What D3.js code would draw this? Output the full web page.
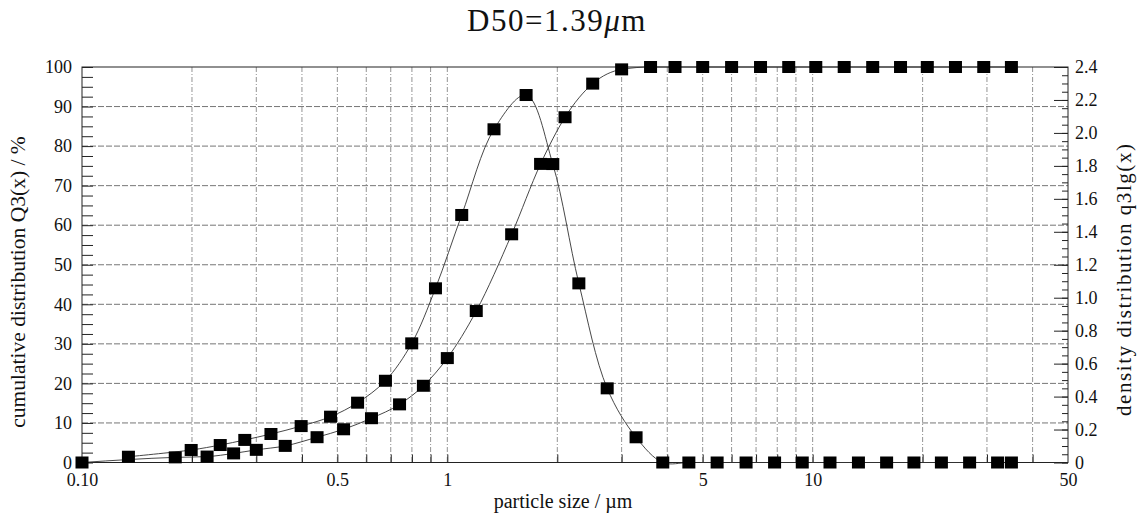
<!DOCTYPE html>
<html lang="en">
<head>
  <meta charset="UTF-8">
  <title>Particle size distribution</title>
  <script src="https://d3js.org/d3.v7.min.js"></script>
  <style>
    body { margin: 0; background: #fff; }
    text { font-family: "Liberation Serif", "Times New Roman", serif; fill: #111; }
  </style>
</head>
<body>
  <div id="chart"></div>

  <script>
    // class upper limits (µm) and cumulative distribution Q3 (%)
    const cumSizes = [0.1, 0.18, 0.22, 0.26, 0.30, 0.36, 0.44, 0.52, 0.62, 0.74, 0.86, 1.0, 1.2, 1.5, 1.8, 2.1,
      2.5, 3.0, 3.6, 4.2, 5.0, 6.0, 7.2, 8.6, 10.2, 12.2, 14.6, 17.4, 20.6, 24.6, 29.4, 35.0];
    const cumValues = [0, 1.3, 1.5, 2.3, 3.2, 4.2, 6.4, 8.4, 11.2, 14.7, 19.4, 26.4, 38.3, 57.7, 75.5, 87.3,
      95.8, 99.4, 100, 100, 100, 100, 100, 100, 100, 100, 100, 100, 100, 100, 100, 100];

    // class mid sizes (µm) and density distribution q3lg
    const densSizes = [0.134, 0.199, 0.239, 0.279, 0.329, 0.398, 0.479, 0.568, 0.677, 0.799, 0.928, 1.095, 1.342,
      1.643, 1.944, 2.291, 2.739, 3.286, 3.888, 4.583, 5.477, 6.573, 7.867, 9.366, 11.155, 13.346, 15.939,
      18.933, 22.512, 26.894, 32.078, 35.0];
    const densValues = [0.035, 0.076, 0.106, 0.137, 0.173, 0.221, 0.278, 0.363, 0.496, 0.723, 1.057, 1.502, 2.022,
      2.230, 1.811, 1.087, 0.450, 0.153, 0, 0, 0, 0, 0, 0, 0, 0, 0, 0, 0, 0, 0, 0];

    // axis ticks
    const xTicks = [0.1, 0.5, 1, 5, 10, 50];
    const xTickLabels = ['0.10', '0.5', '1', '5', '10', '50'];
    const leftTicks = [0, 10, 20, 30, 40, 50, 60, 70, 80, 90, 100];
    const rightTicks = [0, 0.2, 0.4, 0.6, 0.8, 1.0, 1.2, 1.4, 1.6, 1.8, 2.0, 2.2, 2.4];

    const width = 1143, height = 520;
    const margin = { top: 67, right: 75, bottom: 57.5, left: 82 };

    const svg = d3.select('#chart').append('svg')
      .attr('width', width)
      .attr('height', height);

    const x = d3.scaleLog().domain([0.1, 50]).range([margin.left, width - margin.right]);
    const yL = d3.scaleLinear().domain([0, 100]).range([height - margin.bottom, margin.top]);
    const yR = d3.scaleLinear().domain([0, 2.4]).range([height - margin.bottom, margin.top]);

    const x0 = margin.left, x1 = width - margin.right;
    const y0 = height - margin.bottom, y1 = margin.top;

    // log grid values 0.1 .. 50
    const logGrid = [];
    [0.1, 1, 10].forEach(p => {
      for (let k = 1; k <= 9; k++) {
        const v = +(k * p).toPrecision(3);
        if (v > 0.1 && v < 50) logGrid.push(v);
      }
    });

    // vertical grid
    svg.append('g')
      .selectAll('line')
      .data(logGrid)
      .join('line')
      .attr('x1', d => x(d)).attr('x2', d => x(d))
      .attr('y1', y1).attr('y2', y0)
      .attr('stroke', '#777')
      .attr('stroke-width', 0.8)
      .attr('stroke-dasharray', '5,2,1,2');

    // horizontal grid
    svg.append('g')
      .selectAll('line')
      .data(leftTicks.slice(1, -1))
      .join('line')
      .attr('x1', x0).attr('x2', x1)
      .attr('y1', d => yL(d)).attr('y2', d => yL(d))
      .attr('stroke', '#666')
      .attr('stroke-width', 0.9)
      .attr('stroke-dasharray', '6,2');

    // frame
    svg.append('rect')
      .attr('x', x0).attr('y', y1)
      .attr('width', x1 - x0).attr('height', y0 - y1)
      .attr('fill', 'none')
      .attr('stroke', '#222')
      .attr('stroke-width', 1);

    // left axis
    svg.append('g')
      .attr('transform', `translate(${x0},0)`)
      .call(d3.axisRight(yL).tickValues(d3.range(0, 100.1, 2.5)).tickSize(11).tickFormat(''))
      .call(g => g.select('.domain').remove())
      .call(g => g.selectAll('line').attr('stroke', '#222'));
    svg.append('g')
      .attr('transform', `translate(${x0},0)`)
      .call(d3.axisLeft(yL).tickValues(leftTicks).tickSize(0).tickPadding(10))
      .call(g => g.select('.domain').remove())
      .call(g => g.selectAll('text').attr('font-size', 18).attr('font-family', null));

    // right axis
    svg.append('g')
      .attr('transform', `translate(${x1},0)`)
      .call(d3.axisLeft(yR).tickValues(d3.range(0, 2.401, 0.05)).tickSize(6).tickFormat(''))
      .call(g => g.select('.domain').remove())
      .call(g => g.selectAll('line').attr('stroke', '#222'));
    svg.append('g')
      .attr('transform', `translate(${x1},0)`)
      .call(d3.axisLeft(yR).tickValues(rightTicks).tickSize(14).tickFormat(''))
      .call(g => g.select('.domain').remove())
      .call(g => g.selectAll('line').attr('stroke', '#222'));
    svg.append('g')
      .attr('transform', `translate(${x1},0)`)
      .call(d3.axisRight(yR).tickValues(rightTicks).tickSize(0).tickPadding(7)
        .tickFormat(d => d === 0 ? '0' : d3.format('.1f')(d)))
      .call(g => g.select('.domain').remove())
      .call(g => g.selectAll('text').attr('font-size', 18).attr('font-family', null));

    // bottom axis
    svg.append('g')
      .attr('transform', `translate(0,${y0})`)
      .call(d3.axisTop(x).tickValues(logGrid).tickSize(8).tickFormat(''))
      .call(g => g.select('.domain').remove())
      .call(g => g.selectAll('line').attr('stroke', '#222'));
    svg.append('g')
      .attr('transform', `translate(0,${y0})`)
      .call(d3.axisBottom(x).tickValues(xTicks).tickSize(0).tickPadding(11)
        .tickFormat((d, i) => xTickLabels[i]))
      .call(g => g.select('.domain').remove())
      .call(g => g.selectAll('text').attr('font-size', 18).attr('font-family', null));

    // series
    const cumData = cumSizes.map((s, i) => ({ s, v: cumValues[i] }));
    const densData = densSizes.map((s, i) => ({ s, v: densValues[i] }));

    const cumLine = d3.line().x(d => x(d.s)).y(d => yL(d.v)).curve(d3.curveMonotoneX);
    const densLine = d3.line().x(d => x(d.s)).y(d => yR(d.v)).curve(d3.curveCatmullRom.alpha(0.5));

    svg.append('path').datum(cumData)
      .attr('d', cumLine)
      .attr('fill', 'none').attr('stroke', '#333').attr('stroke-width', 0.9);
    svg.append('path').datum(densData)
      .attr('d', densLine)
      .attr('fill', 'none').attr('stroke', '#333').attr('stroke-width', 0.9);

    const ms = 13;
    svg.append('g').selectAll('rect')
      .data(cumData)
      .join('rect')
      .attr('x', d => x(d.s) - ms / 2)
      .attr('y', d => yL(d.v) - 6)
      .attr('width', ms).attr('height', 12)
      .attr('fill', '#000');
    svg.append('g').selectAll('rect')
      .data(densData)
      .join('rect')
      .attr('x', d => x(d.s) - ms / 2)
      .attr('y', d => yR(d.v) - 6)
      .attr('width', ms).attr('height', 12)
      .attr('fill', '#000');

    // title
    const title = svg.append('text')
      .attr('x', 557).attr('y', 31)
      .attr('text-anchor', 'middle')
      .attr('font-size', 31)
      .attr('letter-spacing', 1.5);
    title.append('tspan').text('D50=1.39');
    title.append('tspan').attr('font-style', 'italic').text('μ');
    title.append('tspan').text('m');

    // axis titles
    svg.append('text')
      .attr('transform', 'translate(25,282) rotate(-90)')
      .attr('text-anchor', 'middle')
      .attr('font-size', 21.5)
      .text('cumulative distribution Q3(x) / %');

    svg.append('text')
      .attr('transform', 'translate(1131,280) rotate(-90)')
      .attr('text-anchor', 'middle')
      .attr('font-size', 21)
      .attr('textLength', 272)
      .attr('lengthAdjust', 'spacing')
      .text('density distribution q3lg(x)');

    svg.append('text')
      .attr('x', 563)
      .attr('y', 508)
      .attr('text-anchor', 'middle')
      .attr('font-size', 20)
      .text('particle size / µm');
  </script>
</body>
</html>
